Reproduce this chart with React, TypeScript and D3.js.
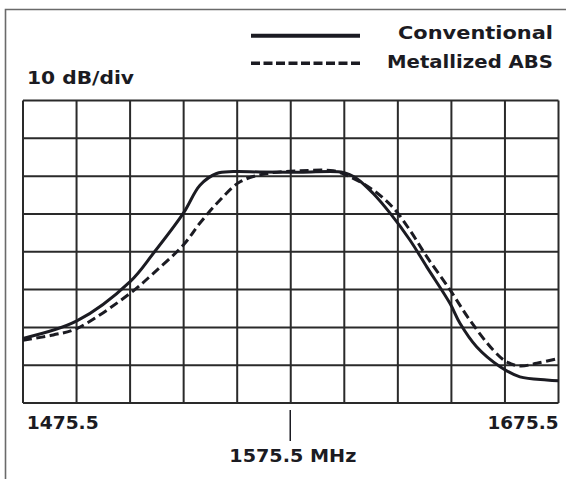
import React from "react";
import * as d3 from "d3";

// ---- data ----
const freqStart = 1475.5;
const freqCenter = 1575.5;
const freqEnd = 1675.5;
const dbTop = 0;
const dbBottom = -80;

const conventionalFreq = [1475.5, 1495.6, 1515.5, 1524.2, 1535.4, 1541.6, 1547.8, 1554.0, 1564.0, 1579.0, 1595.1, 1600.1, 1606.3, 1612.6, 1620.0, 1626.3, 1635.0, 1638.7, 1644.9, 1653.7, 1661.1, 1671.1, 1675.5];
const conventionalDb = [-62.9, -58.3, -47.9, -40.4, -29.8, -22.4, -19.3, -18.8, -18.9, -19.0, -19.0, -20.6, -24.6, -29.8, -36.9, -44.0, -53.7, -58.9, -65.1, -70.4, -73.1, -73.9, -74.1];

const metallizedFreq = [1475.5, 1486.8, 1495.6, 1515.5, 1524.2, 1535.4, 1541.6, 1549.1, 1556.6, 1566.5, 1579.0, 1591.4, 1597.7, 1606.3, 1613.8, 1620.0, 1626.3, 1635.0, 1642.4, 1651.1, 1656.1, 1661.1, 1667.4, 1675.5];
const metallizedDb = [-63.4, -62.0, -60.3, -51.0, -45.7, -38.2, -32.4, -26.3, -21.5, -19.3, -18.6, -18.6, -20.2, -23.7, -28.4, -34.3, -41.3, -50.1, -58.1, -66.0, -69.1, -70.2, -69.5, -68.2];

const seriesNames = ["Conventional", "Metallized ABS"];
const scaleLabel = "10 dB/div";
const tickLabels = ["1475.5", "1575.5 MHz", "1675.5"];

// ---- layout ----
const W = 566;
const H = 479;
const plot = { left: 23, right: 558.5, top: 100.5, bottom: 403 };
const font = "'DejaVu Sans', Verdana, sans-serif";
const ink = "#1b1b22";

export default function App() {
  const x = d3.scaleLinear().domain([freqStart, freqEnd]).range([plot.left, plot.right]);
  const y = d3.scaleLinear().domain([dbTop, dbBottom]).range([plot.top, plot.bottom]);
  const xGrid = d3.range(freqStart, freqEnd + 0.01, 20);
  const yGrid = d3.range(dbTop, dbBottom - 0.01, -10);

  const line = d3
    .line<[number, number]>()
    .x((d) => x(d[0]))
    .y((d) => y(d[1]))
    .curve(d3.curveCatmullRom.alpha(0.5));

  const conv = conventionalFreq.map((f, i) => [f, conventionalDb[i]] as [number, number]);
  const met = metallizedFreq.map((f, i) => [f, metallizedDb[i]] as [number, number]);

  const textStyle = { fontFamily: font, fontWeight: 700, fontSize: 17.5, fill: ink } as const;

  return (
    <svg
      width={W}
      height={H}
      style={{ position: "absolute", left: 0, top: 0, background: "#fff" }}
    >
      <rect x={0} y={0} width={W} height={H} fill="#fff" />
      {/* frame */}
      <path d={`M5.5,${H} V9.5 H${W}`} fill="none" stroke="#6a6a6a" strokeWidth={1.6} />

      {/* legend */}
      <line x1={251} x2={360} y1={35.7} y2={35.7} stroke={ink} strokeWidth={4} />
      <line x1={251} x2={360} y1={63.3} y2={63.3} stroke={ink} strokeWidth={3.5} strokeDasharray="9,3.5" />
      <text x={553} y={39} textAnchor="end" {...textStyle} textLength={155} lengthAdjust="spacingAndGlyphs">
        {seriesNames[0]}
      </text>
      <text x={553} y={67.5} textAnchor="end" {...textStyle} textLength={166} lengthAdjust="spacingAndGlyphs">
        {seriesNames[1]}
      </text>
      <text x={27} y={84} {...textStyle} textLength={107} lengthAdjust="spacingAndGlyphs">
        {scaleLabel}
      </text>

      {/* grid */}
      {xGrid.map((f) => (
        <line key={"vx" + f} x1={x(f)} x2={x(f)} y1={plot.top} y2={plot.bottom} stroke="#2a2a2a" strokeWidth={2} />
      ))}
      {yGrid.map((v) => (
        <line key={"hy" + v} x1={plot.left} x2={plot.right} y1={y(v)} y2={y(v)} stroke="#2a2a2a" strokeWidth={2} />
      ))}

      {/* curves */}
      <path d={line(met) || ""} fill="none" stroke={ink} strokeWidth={3} strokeDasharray="9,4.5" />
      <path d={line(conv) || ""} fill="none" stroke={ink} strokeWidth={3} />

      {/* x labels */}
      <text x={x(freqStart) + 3.7} y={428.5} {...textStyle} textLength={72} lengthAdjust="spacingAndGlyphs">
        {tickLabels[0]}
      </text>
      <text x={x(freqEnd)} y={428.5} textAnchor="end" {...textStyle} textLength={71} lengthAdjust="spacingAndGlyphs">
        {tickLabels[2]}
      </text>
      <line x1={x(freqCenter) - 0.5} x2={x(freqCenter) - 0.5} y1={410} y2={441} stroke={ink} strokeWidth={1.5} />
      <text x={229.3} y={461.5} {...textStyle} textLength={127} lengthAdjust="spacingAndGlyphs">
        {tickLabels[1]}
      </text>
    </svg>
  );
}
